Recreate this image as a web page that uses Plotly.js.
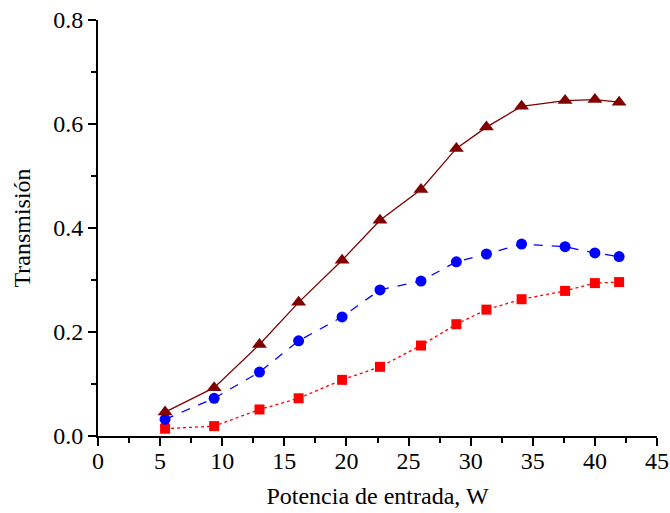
<!DOCTYPE html>
<html><head><meta charset="utf-8">
<script src="https://cdn.plot.ly/plotly-3.0.1.min.js"></script>
<style>body{margin:0}#c{width:670px;height:513px}</style>
</head><body><div id="c"></div>
<script>
const potencia = [5.4, 9.35, 13.0, 16.15, 19.65, 22.7, 26.0, 28.85, 31.27, 34.1, 37.6, 40.0, 41.95];
const serieTriangulos = [0.046, 0.093, 0.176, 0.257, 0.338, 0.415, 0.474, 0.553, 0.594, 0.634, 0.645, 0.647, 0.642];
const serieCirculos = [0.032, 0.0725, 0.123, 0.183, 0.229, 0.281, 0.298, 0.335, 0.35, 0.369, 0.364, 0.352, 0.345];
const serieCuadrados = [0.014, 0.019, 0.051, 0.0725, 0.108, 0.133, 0.174, 0.215, 0.243, 0.263, 0.279, 0.294, 0.296];

const traces = [
  {x: potencia, y: serieCuadrados, mode: 'lines+markers', type: 'scatter',
   line: {color: '#ff0000', width: 1.3, dash: 'dot'},
   marker: {symbol: 'square', size: 10, color: '#ff0000'}},
  {x: potencia, y: serieCirculos, mode: 'lines+markers', type: 'scatter',
   line: {color: '#0000ff', width: 1.3, dash: 'dash'},
   marker: {symbol: 'circle', size: 11, color: '#0000ff'}},
  {x: potencia, y: serieTriangulos, mode: 'lines+markers', type: 'scatter',
   line: {color: '#800000', width: 1.3},
   marker: {symbol: 'triangle-up', size: 13, color: '#800000'}}
];

const font = {family: '"Liberation Serif", "Times New Roman", serif', size: 24, color: '#000'};
const layout = {
  width: 670, height: 513,
  margin: {l: 98, r: 13, t: 20, b: 77},
  showlegend: false,
  paper_bgcolor: '#fff', plot_bgcolor: '#fff',
  font: font,
  xaxis: {
    range: [0, 45], dtick: 5, tick0: 0,
    showgrid: false, zeroline: false,
    showline: true, linecolor: '#000', linewidth: 2,
    ticks: 'outside', ticklen: 8, tickwidth: 2, tickcolor: '#000',
    ticklabelstandoff: -6,
    minor: {dtick: 2.5, ticks: 'outside', ticklen: 5, tickwidth: 2, tickcolor: '#000', showgrid: false},
    tickfont: font,
    title: {text: 'Potencia de entrada, W', font: font, standoff: 14}
  },
  yaxis: {
    range: [0, 0.8], dtick: 0.2, tick0: 0, tickformat: '.1f',
    showgrid: false, zeroline: false,
    showline: true, linecolor: '#000', linewidth: 2,
    ticks: 'outside', ticklen: 8, tickwidth: 2, tickcolor: '#000',
    minor: {dtick: 0.1, ticks: 'outside', ticklen: 5, tickwidth: 2, tickcolor: '#000', showgrid: false},
    tickfont: font,
    title: {text: 'Transmisión', font: font, standoff: 16}
  }
};
Plotly.newPlot('c', traces, layout, {displayModeBar: false, staticPlot: true});
</script>
</body></html>
